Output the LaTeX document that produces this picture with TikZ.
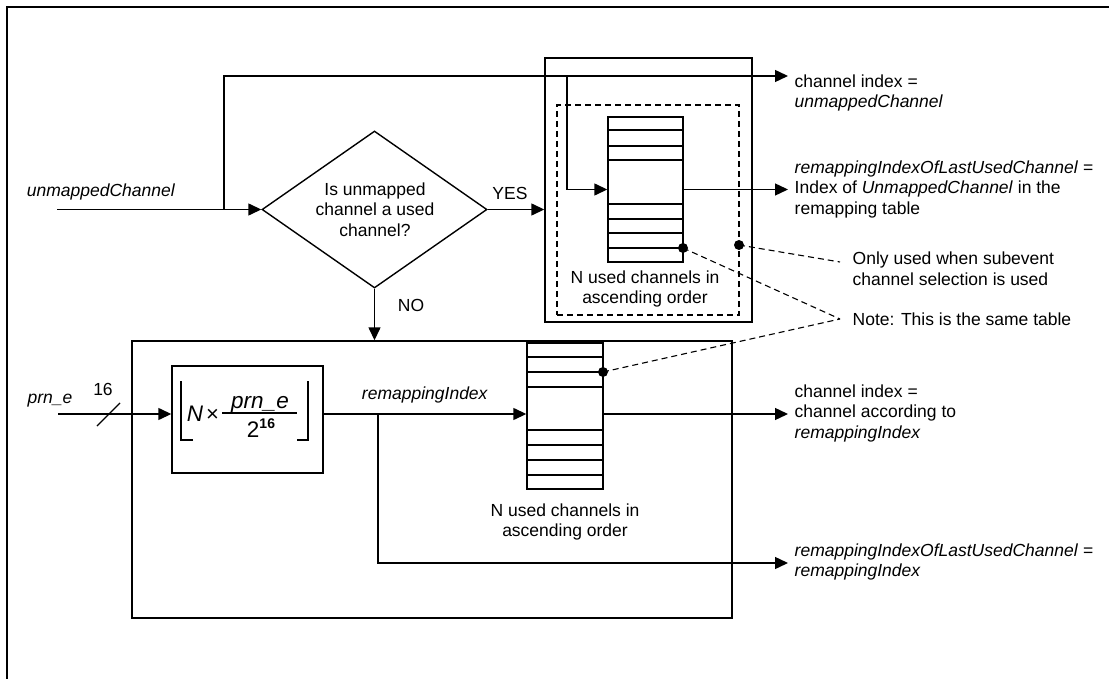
\documentclass[tikz,border=0pt]{standalone}
\usepackage{fontspec}
\setmainfont{Liberation Sans}
\usetikzlibrary{arrows.meta,shapes.geometric,calc}
\begin{document}
\begin{tikzpicture}[x=1pt,y=-1pt,line width=1.4pt,
  lbl/.style={font=\fontsize{17.5}{20.5}\selectfont, inner sep=0pt, align=left},
  arr/.style={-{Triangle[length=13pt,width=12pt]}},
  dsh/.style={line width=1.1pt, dash pattern=on 6pt off 4pt},
  plainbox/.style={draw, inner sep=0pt, rectangle},
  fml/.style={font=\fontsize{22.5}{24}\selectfont, inner sep=0pt}]
\useasboundingbox (0,0) rectangle (1109,679);
% frame
\draw[line width=1.6pt] (7,690) -- (7,7) -- (1120,7);

% boxes
\node[plainbox, minimum width=207pt, minimum height=264pt] (boxU) at (648.5,190) {};
\node[plainbox, dsh, minimum width=182pt, minimum height=210pt] (dashU) at (648,210) {};
\node[plainbox, minimum width=75pt, minimum height=145pt] (tabU) at (645.5,189.5) {};
\foreach \yy in {130,146,160,204,219,233,248} \draw (608,\yy) -- (683,\yy);
\node[lbl, align=center] (capU) at (645,289) {N used channels in\\ascending order};

\node[plainbox, minimum width=600pt, minimum height=277pt] (boxL) at (432,479.5) {};
\node[plainbox, minimum width=151pt, minimum height=107pt] (fbox) at (247.5,419.5) {};
\node[plainbox, minimum width=76pt, minimum height=146pt] (tabL) at (565,416) {};
\foreach \yy in {357,372,387,430,445,460,475} \draw (527,\yy) -- (603,\yy);
\node[lbl, align=center] (capL) at (565,522) {N used channels in\\ascending order};

% decision
\node[draw, diamond, aspect=1.43, minimum width=225pt, minimum height=157pt, inner sep=0pt] (dec) at (374.5,209.5) {};
\node[lbl, align=center] (dect) at (375,209.5) {Is unmapped\\channel a used\\channel?};

% formula
\node[fml, font=\fontsize{22.5}{24}\selectfont\itshape] (fN) at (195,414) {N};
\node[inner sep=0pt, font=\fontsize{22}{22}\selectfont] (fx) at (212.5,415) {×};
\coordinate (fb1) at (222,413);
\coordinate (fb2) at (297,413);
\draw[line width=1.2pt] (fb1) -- (fb2);
\node[fml, anchor=base] (fnum) at (260,408) {\textit{prn\_e}};
\node[fml, anchor=base] (fden) at (261,437) {2\raisebox{9pt}{\fontsize{14}{14}\selectfont\bfseries 16}};
\coordinate (lb1) at (193,440);
\coordinate (lb2) at (181,440);
\coordinate (lb3) at (181,381);
\coordinate (rb1) at (297,440);
\coordinate (rb2) at (308,440);
\coordinate (rb3) at (308,381);
\draw (lb1) -- (lb2) -- (lb3);
\draw (rb1) -- (rb2) -- (rb3);

% labels
\node[lbl] (lin1) at (101,192) {\textit{unmappedChannel}};
\node[lbl] (yes) at (510,193) {YES};
\node[lbl] (no) at (411,305) {NO};
\node[lbl] (lin2) at (50,401) {\textit{prn\_e}};
\node[lbl] (w16) at (103,389) {16};
\node[lbl] (ri) at (425,395) {\textit{remappingIndex}};
\node[lbl, anchor=west] (o1) at (794,93) {channel index =\\\textit{unmappedChannel}};
\node[lbl, anchor=west] (o2) at (794,189) {\textit{remappingIndexOfLastUsedChannel} =\\Index of \textit{UnmappedChannel} in the\\remapping table};
\node[lbl, anchor=west] (n1) at (852,268.5) {Only used when subevent\\channel selection is used};
\node[lbl, anchor=west] (n2) at (852,319) {Note: This is the same table};
\node[lbl, anchor=west] (o3) at (794,413) {channel index =\\channel according to\\\textit{remappingIndex}};
\node[lbl, anchor=west] (o4) at (794,562) {\textit{remappingIndexOfLastUsedChannel} =\\\textit{remappingIndex}};

% connectors
\coordinate (in1) at (57,209.5);
\coordinate (br1) at (224,209.5);
\coordinate (top1) at (224,76);
\coordinate (out1) at (788,76);
\coordinate (br2) at (567,76);
\draw[arr] (in1) -- (dec.west);
\draw[arr] (br1) -- (top1) -- (out1);
\draw[arr] (br2) |- (tabU.west);
\draw[arr] (tabU.east) -- (tabU.east -| out1);
\draw[arr] (dec.east) -- (dec.east -| boxU.west);
\draw[arr] (dec.south) -- (dec.south |- boxL.north);

\coordinate (in2) at (58,414);
\coordinate (sl1) at (97,426);
\coordinate (sl2) at (120,403);
\coordinate (br3) at (378,414);
\coordinate (out4) at (788,563);
\draw[arr] (in2) -- (in2 -| fbox.west);
\draw (sl1) -- (sl2);
\draw[arr] (in2 -| fbox.east) -- (in2 -| tabL.west);
\draw[arr] (br3) |- (out4);
\draw[arr] (in2 -| tabL.east) -- (in2 -| out1);

% dashed notes
\coordinate (dD) at (739,245);
\coordinate (dT) at (683,248);
\coordinate (dL) at (603,372);
\coordinate (e1) at (840,262);
\coordinate (e2) at (840,319);
\fill (dD) circle (5pt);
\fill (dT) circle (5pt);
\fill (dL) circle (5pt);
\draw[dsh] (dD) -- (e1);
\draw[dsh] (dT) -- (e2);
\draw[dsh] (dL) -- (e2);
\end{tikzpicture}
\end{document}
